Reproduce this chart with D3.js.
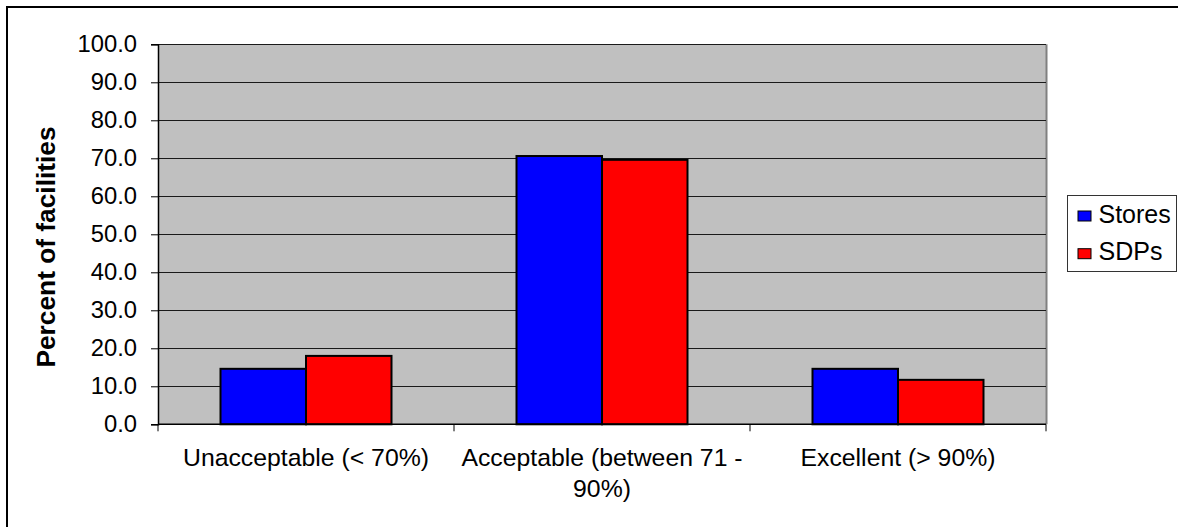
<!DOCTYPE html>
<html>
<head>
<meta charset="utf-8">
<script src="https://cdn.jsdelivr.net/npm/d3@7"></script>
<style>
  html, body { margin: 0; padding: 0; background: #fff; }
  svg { display: block; }
  text { font-family: "Liberation Sans", Arial, sans-serif; fill: #000; }
</style>
</head>
<body>
<svg id="chart" width="1178" height="527"></svg>
<script>
// Facility ratings, percent of facilities per category
const categories = ["Unacceptable (< 70%)", "Acceptable (between 71 - 90%)", "Excellent (> 90%)"];
const categoryLines = [["Unacceptable (< 70%)"], ["Acceptable (between 71 -", "90%)"], ["Excellent (> 90%)"]];
const seriesNames = ["Stores", "SDPs"];
const storesValues = [14.6, 70.6, 14.6];
const sdpsValues = [18.0, 69.6, 11.7];
const seriesColors = ["#0000FF", "#FF0000"];
const yTicks = [0, 10, 20, 30, 40, 50, 60, 70, 80, 90, 100];

const seriesValues = [storesValues, sdpsValues];
const rows = categories.map((c, i) => ({
  category: c,
  values: seriesNames.map((s, j) => ({ series: s, value: seriesValues[j][i], color: seriesColors[j] }))
}));

const svg = d3.select("#chart");

// outer chart frame
svg.append("rect")
  .attr("x", 7).attr("y", 7)
  .attr("width", 1185).attr("height", 540)
  .attr("fill", "#fff").attr("stroke", "#000").attr("stroke-width", 2);

const plot = { left: 158, right: 1046, top: 44.3, bottom: 424.3 };

const x0 = d3.scaleBand().domain(categories).range([plot.left, plot.right]).padding(0);
const x1 = d3.scaleBand().domain(seriesNames).range([0, x0.bandwidth()])
  .paddingInner(0).paddingOuter(0.731);
const y = d3.scaleLinear().domain([0, 100]).range([plot.bottom, plot.top]);

// plot area background
svg.append("rect")
  .attr("x", plot.left).attr("y", plot.top)
  .attr("width", plot.right - plot.left).attr("height", plot.bottom - plot.top)
  .attr("fill", "#C0C0C0");

// right edge of plot area
svg.append("line")
  .attr("x1", plot.right + 0.5).attr("x2", plot.right + 0.5)
  .attr("y1", plot.top).attr("y2", plot.bottom)
  .attr("stroke", "#808080").attr("stroke-width", 2);

// horizontal gridlines
svg.append("g")
  .selectAll("line")
  .data(yTicks.filter(d => d > 0))
  .join("line")
  .attr("x1", plot.left).attr("x2", plot.right)
  .attr("y1", d => Math.round(y(d)) + 0.5).attr("y2", d => Math.round(y(d)) + 0.5)
  .attr("stroke", "#1a1a1a").attr("stroke-width", 1);

// bars
const groups = svg.append("g")
  .selectAll("g")
  .data(rows)
  .join("g")
  .attr("transform", d => `translate(${x0(d.category)},0)`);

groups.selectAll("rect")
  .data(d => d.values)
  .join("rect")
  .attr("x", d => x1(d.series))
  .attr("y", d => y(d.value))
  .attr("width", x1.bandwidth())
  .attr("height", d => y(0) - y(d.value))
  .attr("fill", d => d.color)
  .attr("stroke", "#000")
  .attr("stroke-width", 2);

// y axis
const yAxis = d3.axisLeft(y).tickValues(yTicks).tickFormat(d3.format(".1f"))
  .tickSize(7).tickPadding(14);
const gy = svg.append("g").attr("transform", `translate(${plot.left},0)`).call(yAxis);
gy.select(".domain").attr("stroke", "#000").attr("stroke-width", 1.5);
gy.selectAll(".tick line").attr("stroke", "#000");
gy.selectAll(".tick text")
  .attr("font-size", 23.8)
  .attr("font-family", "Liberation Sans, Arial, sans-serif")
  .attr("fill", "#000");

// x axis: ticks at category boundaries
const gx = svg.append("g").attr("transform", `translate(0,${plot.bottom})`);
gx.append("line")
  .attr("x1", plot.left).attr("x2", plot.right)
  .attr("y1", 0).attr("y2", 0)
  .attr("stroke", "#000").attr("stroke-width", 1.5);
const boundaries = categories.map(c => x0(c)).concat([x0(categories[categories.length - 1]) + x0.bandwidth()]);
gx.selectAll("line.tick")
  .data(boundaries)
  .join("line")
  .attr("class", "tick")
  .attr("x1", d => d).attr("x2", d => d)
  .attr("y1", 0).attr("y2", 7)
  .attr("stroke", "#000").attr("stroke-width", 1);

// category labels (wrapped)
const labels = svg.append("g")
  .selectAll("text")
  .data(categories)
  .join("text")
  .attr("x", d => x0(d) + x0.bandwidth() / 2)
  .attr("y", 466)
  .attr("text-anchor", "middle")
  .attr("font-size", 24.8);
labels.each(function (d, i) {
  d3.select(this).selectAll("tspan")
    .data(categoryLines[i])
    .join("tspan")
    .attr("x", x0(d) + x0.bandwidth() / 2)
    .attr("dy", (t, k) => k === 0 ? 0 : 30.5)
    .text(t => t);
});

// y axis title
svg.append("text")
  .attr("transform", "translate(55,247) rotate(-90)")
  .attr("text-anchor", "middle")
  .attr("font-size", 26.3)
  .attr("font-weight", "bold")
  .text("Percent of facilities");

// legend
const legend = svg.append("g");
legend.append("rect")
  .attr("x", 1067.5).attr("y", 195.5)
  .attr("width", 109).attr("height", 76)
  .attr("fill", "#fff").attr("stroke", "#333").attr("stroke-width", 1);
const items = legend.selectAll("g.item")
  .data(seriesNames)
  .join("g")
  .attr("class", "item")
  .attr("transform", (d, i) => `translate(0,${i * 37.7})`);
items.append("rect")
  .attr("x", 1078).attr("y", 211)
  .attr("width", 13).attr("height", 10)
  .attr("fill", (d, i) => seriesColors[i])
  .attr("stroke", "#000").attr("stroke-width", 1);
items.append("text")
  .attr("x", 1098.5).attr("y", 222.5)
  .attr("font-size", 25)
  .text(d => d);
</script>
</body>
</html>
